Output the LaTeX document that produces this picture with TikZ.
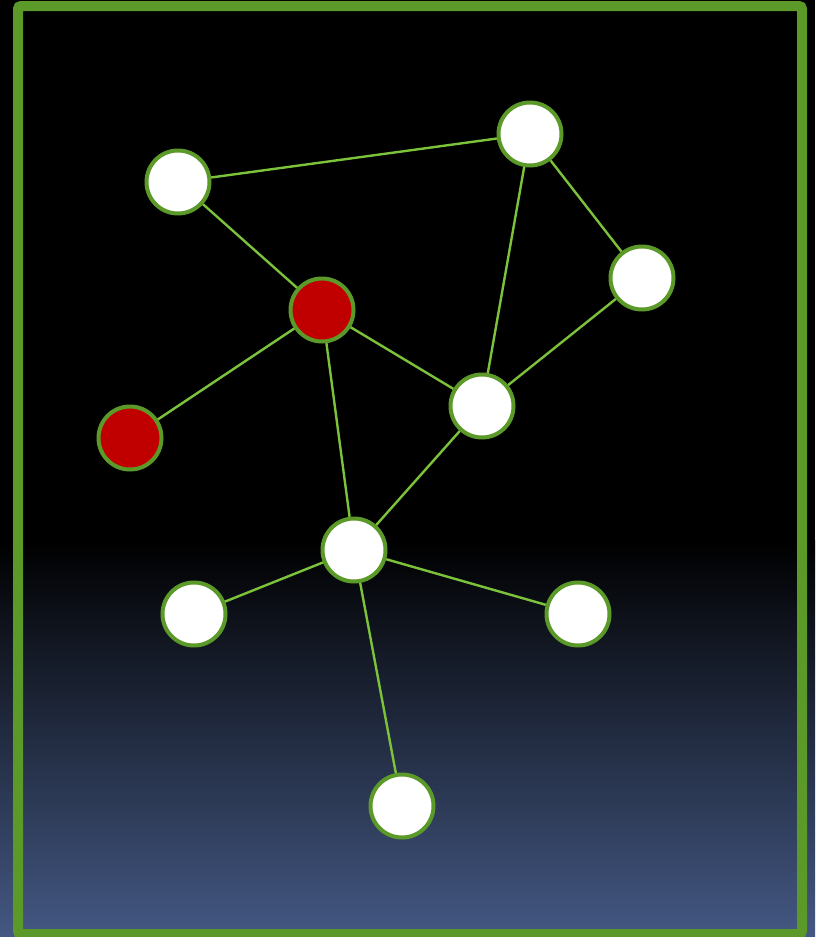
\documentclass[tikz,border=0pt]{standalone}
\usepackage{tikz}
\definecolor{framec}{HTML}{5B9A28}
\definecolor{linkc}{HTML}{7CC23A}
\definecolor{hitc}{HTML}{C00000}
\definecolor{skyc}{HTML}{445883}

\begin{document}
\begin{tikzpicture}[
  x=1pt, y=-1pt,
  vtx/.style={draw=framec, circle, line width=4pt, minimum size=63pt, inner sep=0pt, fill=white},
  hit/.style={vtx, fill=hitc},
  lnk/.style={draw=linkc, line width=2.4pt},
]
% background and frame
\useasboundingbox (0,0) rectangle (815,937);
\fill[black] (0,0) rectangle (815,937);
\shade[top color=black, bottom color=skyc] (0,540) rectangle (815,937);
\draw[framec, line width=10pt, rounded corners=3pt] (18,6) rectangle (802,934);

% vertices
\node[vtx] (a) at (178,182) {};
\node[vtx] (b) at (530,134) {};
\node[vtx] (c) at (642,278) {};
\node[hit] (r1) at (322,310) {};
\node[vtx] (d) at (482,406) {};
\node[hit] (r2) at (130,438) {};
\node[vtx] (e) at (354,550) {};
\node[vtx] (f) at (194,614) {};
\node[vtx] (g) at (578,614) {};
\node[vtx] (h) at (402,806) {};

% links
\draw[lnk] (a)--(b); \draw[lnk] (a)--(r1); \draw[lnk] (b)--(c);
\draw[lnk] (b)--(d); \draw[lnk] (c)--(d); \draw[lnk] (r1)--(d);
\draw[lnk] (r1)--(r2); \draw[lnk] (r1)--(e); \draw[lnk] (d)--(e);
\draw[lnk] (e)--(f); \draw[lnk] (e)--(g); \draw[lnk] (e)--(h);
\end{tikzpicture}
\end{document}
